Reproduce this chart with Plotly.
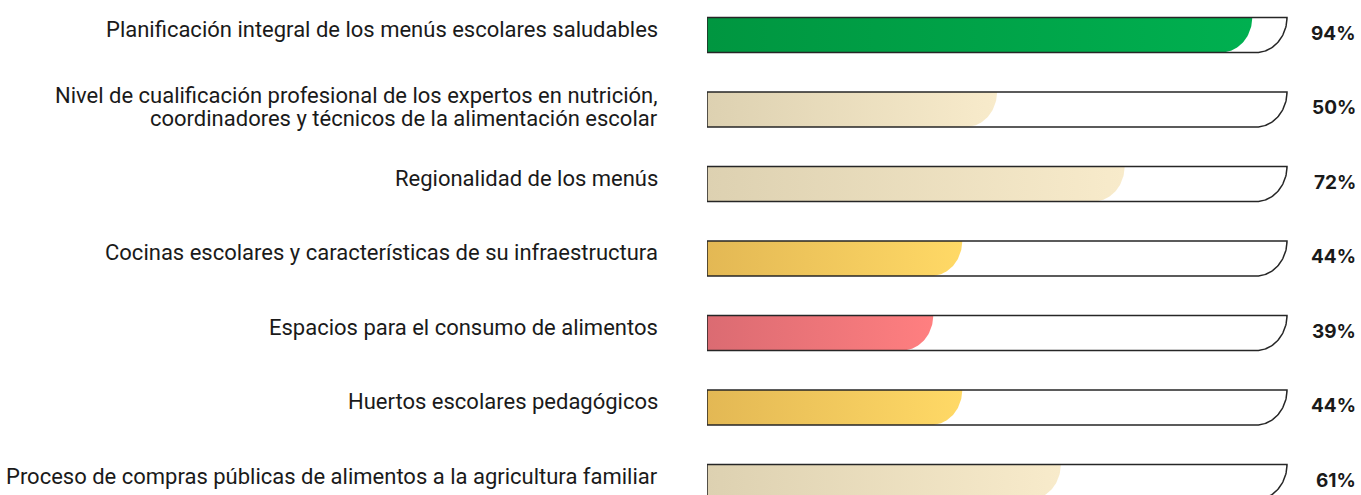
import numpy as np
import plotly.graph_objects as go

categories = [
    "Planificación integral de los menús escolares saludables",
    "Nivel de cualificación profesional de los expertos en nutrición,<br>coordinadores y técnicos de la alimentación escolar",
    "Regionalidad de los menús",
    "Cocinas escolares y características de su infraestructura",
    "Espacios para el consumo de alimentos",
    "Huertos escolares pedagógicos",
    "Proceso de compras públicas de alimentos a la agricultura familiar",
]
values = [94, 50, 72, 44, 39, 44, 61]
value_labels = ["94%", "50%", "72%", "44%", "39%", "44%", "61%"]
color_start = ["#009640", "#DDD1B1", "#DDD1B1", "#E3B854", "#DB6B72", "#E3B854", "#DDD1B1"]
color_end = ["#00B050", "#F8EBCB", "#F8EBCB", "#FFD966", "#FF7F80", "#FFD966", "#F8EBCB"]

W, H = 1361, 495
ML = 707
PX_PER_UNIT_X = 5.8           # pixels per percent
PX_PER_ROW = 74.5
X_MAX = (W - ML) / PX_PER_UNIT_X
Y_TOP = -35 / PX_PER_ROW
Y_BOT = (len(categories) - 1) + (H - 35 - (len(categories) - 1) * PX_PER_ROW) / PX_PER_ROW
HALF = 17.5 / PX_PER_ROW      # half bar height in row units
RX = 31 / PX_PER_UNIT_X       # curve radius in x units
LABEL_FONT = dict(family="Roboto", size=22, color="#1a1a1a")
LINE_GAP = 23


def bar_path(v, yc):
    top, bot = yc - HALF, yc + HALF
    t = np.linspace(0, np.pi / 2, 40)
    cx = v - RX
    ex = cx + RX * np.cos(t)
    ey = top + (bot - top) * np.sin(t)
    xs = [0, *ex, 0, 0]
    ys = [top, *ey, bot, top]
    return xs, ys


fig = go.Figure()
for i, (v, c0, c1) in enumerate(zip(values, color_start, color_end)):
    xs, ys = bar_path(v, i)
    fig.add_trace(go.Scatter(
        x=xs, y=ys, mode="lines", fill="toself",
        line=dict(width=0, color=c1),
        fillgradient=dict(type="horizontal", colorscale=[[0, c0], [1, c1]]),
        hoverinfo="skip", showlegend=False,
    ))
    ox, oy = bar_path(100, i)
    fig.add_trace(go.Scatter(
        x=ox, y=oy, mode="lines",
        line=dict(width=1.5, color="#262626"),
        hoverinfo="skip", showlegend=False,
    ))
    lines = categories[i].split("<br>")
    n = len(lines)
    base = 6 if n == 1 else 2.5
    for k, ln in enumerate(lines):
        off = ((n - 1) / 2 - k) * LINE_GAP
        fig.add_annotation(
            x=0, y=i, xref="x", yref="y", text=ln,
            xanchor="right", yanchor="middle", align="right", xshift=-47,
            yshift=base + off,
            showarrow=False, font=LABEL_FONT,
        )
    fig.add_annotation(
        x=1, y=i, xref="paper", yref="y", text="<b>" + value_labels[i] + "</b>",
        xanchor="right", yanchor="middle", xshift=-3, yshift=2,
        showarrow=False, font=dict(family="Inter", size=19, color="#1a1a1a"),
    )

fig.update_layout(
    width=W, height=H,
    margin=dict(l=ML, r=0, t=0, b=0),
    plot_bgcolor="white", paper_bgcolor="white",
    xaxis=dict(range=[0, X_MAX], visible=False, fixedrange=True),
    yaxis=dict(range=[Y_BOT, Y_TOP], visible=False, fixedrange=True),
)
fig.write_html(
    "out.html",
    config={"displayModeBar": False},
    post_script="document.body.style.margin='0px';document.body.style.overflow='hidden';",
)
